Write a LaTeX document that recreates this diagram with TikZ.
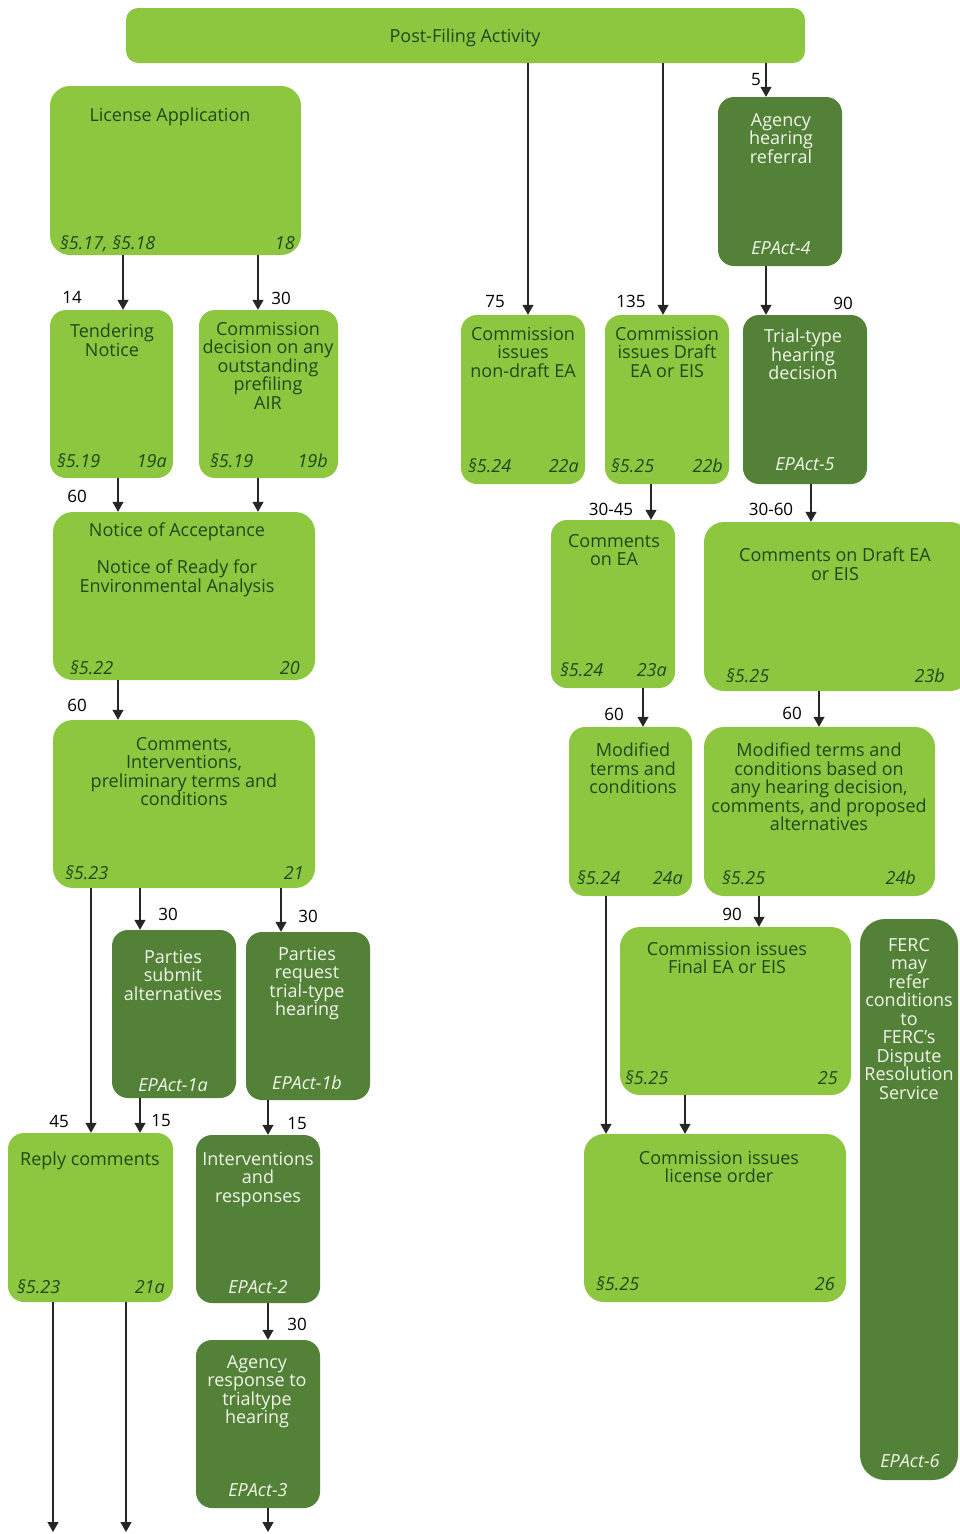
\documentclass[tikz,border=0pt]{standalone}
\usepackage{fontspec}
\setmainfont{Open Sans}
\usetikzlibrary{fit,arrows.meta}
\definecolor{leaf}{RGB}{141,198,63}
\definecolor{moss}{RGB}{83,129,56}
\definecolor{ink}{RGB}{28,74,28}
\definecolor{pale}{RGB}{242,246,234}

\begin{document}
\begin{tikzpicture}[x=1pt, y=-1pt,
  lt/.style = {fill=leaf, rounded corners=16pt, inner sep=0pt},
  dk/.style = {fill=moss, rounded corners=16pt, inner sep=0pt},
  txt/.style = {font=\fontsize{18}{18.5}\selectfont, align=center, inner sep=0pt, anchor=north, yshift=-2pt},
  ltxt/.style = {txt, text=ink},
  dtxt/.style = {txt, text=pale},
  sec/.style = {font=\fontsize{18}{18.5}\selectfont\itshape, inner sep=0pt, text=ink},
  act/.style = {sec, text=pale, anchor=base},
  num/.style = {font=\fontsize{17}{18.5}\selectfont, inner sep=0pt},
  arr/.style = {draw=black!85, line width=1.1pt, -{Triangle[length=10pt,width=11pt]}}]
\useasboundingbox (0,0) rectangle (960,1534);

% top bar
\node[lt, rounded corners=12pt, fit={(126,8) (805,63)}] (pfa) {};
\node[ltxt, anchor=center] (pfaT) at (465,36) {Post-Filing Activity};

%% left column
\node[lt, rounded corners=20pt, fit={(50,86) (301,255)}] (lic) {};
\node[ltxt] (licT) at (170,106) {License Application};
\node[sec, anchor=base west] (licS) at (60,249) {§5.17, §5.18};
\node[sec, anchor=base east] (licN) at (295,249) {18};

\node[lt, fit={(50,310) (173,478)}] (tend) {};
\node[ltxt] (tendT) at (112,322) {Tendering\\Notice};
\node[sec, anchor=base west] (tendS) at (57,467) {§5.19};
\node[sec, anchor=base east] (tendN) at (167,467) {19a};

\node[lt, fit={(199,310) (338,478)}] (cdec) {};
\node[ltxt] (cdecT) at (268,320) {Commission\\decision on any\\outstanding\\prefiling\\AIR};
\node[sec, anchor=base west] (cdecS) at (210,467) {§5.19};
\node[sec, anchor=base east] (cdecN) at (328,467) {19b};

\node[lt, rounded corners=20pt, fit={(53,512) (315,680)}] (noa) {};
\node[ltxt] (noaT) at (177,521) {Notice of Acceptance\\[18.5pt]Notice of Ready for\\Environmental Analysis};
\node[sec, anchor=base west] (noaS) at (70,674) {§5.22};
\node[sec, anchor=base east] (noaN) at (300,674) {20};

\node[lt, rounded corners=20pt, fit={(53,720) (315,888)}] (com) {};
\node[ltxt] (comT) at (184,735) {Comments,\\Interventions,\\preliminary terms and\\conditions};
\node[sec, anchor=base west] (comS) at (65,879) {§5.23};
\node[sec, anchor=base east] (comN) at (304,879) {21};

\node[dk, fit={(112,930) (236,1098)}] (psub) {};
\node[dtxt] (psubT) at (173,948) {Parties\\submit\\alternatives};
\node[act] (psubA) at (173,1091) {\itshape EPAct-1a};

\node[dk, fit={(246,932) (370,1100)}] (preq) {};
\node[dtxt] (preqT) at (307,945) {Parties\\request\\trial-type\\hearing};
\node[act] (preqA) at (307,1089) {\itshape EPAct-1b};

\node[lt, fit={(8,1133) (173,1302)}] (reply) {};
\node[ltxt] (replyT) at (90,1150) {Reply comments};
\node[sec, anchor=base west] (replyS) at (17,1293) {§5.23};
\node[sec, anchor=base east] (replyN) at (165,1293) {21a};

\node[dk, fit={(196,1135) (320,1303)}] (interv) {};
\node[dtxt] (intervT) at (258,1150) {Interventions\\and\\responses};
\node[act] (intervA) at (258,1293) {\itshape EPAct-2};

\node[dk, fit={(196,1340) (320,1508)}] (agresp) {};
\node[dtxt] (agrespT) at (257,1353) {Agency\\response to\\trialtype\\hearing};
\node[act] (agrespA) at (258,1496) {\itshape EPAct-3};

%% right columns
\node[dk, fit={(718,97) (842,266)}] (ahr) {};
\node[dtxt] (ahrT) at (781,111) {Agency\\hearing\\referral};
\node[act] (ahrA) at (781,254) {\itshape EPAct-4};

\node[lt, fit={(461,315) (585,484)}] (ndea) {};
\node[ltxt] (ndeaT) at (523,325) {Commission\\issues\\non-draft EA};
\node[sec, anchor=base west] (ndeaS) at (468,472) {§5.24};
\node[sec, anchor=base east] (ndeaN) at (579,472) {22a};

\node[lt, fit={(605,315) (729,484)}] (dea) {};
\node[ltxt] (deaT) at (667,325) {Commission\\issues Draft\\EA or EIS};
\node[sec, anchor=base west] (deaS) at (611,472) {§5.25};
\node[sec, anchor=base east] (deaN) at (723,472) {22b};

\node[dk, fit={(743,315) (867,484)}] (tth) {};
\node[dtxt] (tthT) at (803,327) {Trial-type\\hearing\\decision};
\node[act] (tthA) at (805,470) {\itshape EPAct-5};

\node[lt, fit={(551,520) (675,688)}] (cea) {};
\node[ltxt] (ceaT) at (614,532) {Comments\\on EA};
\node[sec, anchor=base west] (ceaS) at (560,676) {§5.24};
\node[sec, anchor=base east] (ceaN) at (667,676) {23a};

\node[lt, rounded corners=20pt, fit={(704,522) (970,691)}] (cdea) {};
\node[ltxt] (cdeaT) at (835,546) {Comments on Draft EA\\or EIS};
\node[sec, anchor=base west] (cdeaS) at (726,682) {§5.25};
\node[sec, anchor=base east] (cdeaN) at (945,682) {23b};

\node[lt, fit={(569,727) (692,896)}] (mtc) {};
\node[ltxt] (mtcT) at (633,741) {Modified\\terms and\\conditions};
\node[sec, anchor=base west] (mtcS) at (577,884) {§5.24};
\node[sec, anchor=base east] (mtcN) at (683,884) {24a};

\node[lt, rounded corners=20pt, fit={(704,727) (935,896)}] (mtb) {};
\node[ltxt] (mtbT) at (819,741) {Modified terms and\\conditions based on\\any hearing decision,\\comments, and proposed\\alternatives};
\node[sec, anchor=base west] (mtbS) at (722,884) {§5.25};
\node[sec, anchor=base east] (mtbN) at (916,884) {24b};

\node[lt, rounded corners=20pt, fit={(620,927) (851,1095)}] (fea) {};
\node[ltxt] (feaT) at (727,940) {Commission issues\\Final EA or EIS};
\node[sec, anchor=base west] (feaS) at (625,1084) {§5.25};
\node[sec, anchor=base east] (feaN) at (838,1084) {25};

\node[lt, rounded corners=20pt, fit={(584,1134) (846,1302)}] (lo) {};
\node[ltxt] (loT) at (719,1149) {Commission issues\\license order};
\node[sec, anchor=base west] (loS) at (596,1290) {§5.25};
\node[sec, anchor=base east] (loN) at (835,1290) {26};

\node[dk, rounded corners=25pt, fit={(860,919) (958,1480)}] (ferc) {};
\node[dtxt] (fercT) at (909,936) {FERC\\may\\refer\\conditions\\to\\FERC's\\Dispute\\Resolution\\Service};
\node[act] (fercA) at (910,1467) {\itshape EPAct-6};

% free ends at the bottom
\coordinate (outA) at (53,1532);
\coordinate (outB) at (126,1532);
\coordinate (outC) at (268,1532);

%% arrows
\draw[arr] (lic.south -| 123,0) -- (tend.north -| 123,0);
\draw[arr] (lic.south -| 258,0) -- (cdec.north -| 258,0);
\draw[arr] (tend.south -| 118,0) -- (noa.north -| 118,0);
\draw[arr] (cdec.south -| 258,0) -- (noa.north -| 258,0);
\draw[arr] (noa.south -| 118,0) -- (com.north -| 118,0);
\draw[arr] (com.south -| 91,0) -- (reply.north -| 91,0);
\draw[arr] (com.south -| 140,0) -- (psub.north -| 140,0);
\draw[arr] (com.south -| 281,0) -- (preq.north -| 281,0);
\draw[arr] (psub.south -| 140,0) -- (reply.north -| 140,0);
\draw[arr] (preq.south -| 268,0) -- (interv.north -| 268,0);
\draw[arr] (reply.south -| outA) -- (outA);
\draw[arr] (reply.south -| outB) -- (outB);
\draw[arr] (interv.south -| 268,0) -- (agresp.north -| 268,0);
\draw[arr] (agresp.south -| outC) -- (outC);
\draw[arr] (pfa.south -| 528,0) -- (ndea.north -| 528,0);
\draw[arr] (pfa.south -| 663,0) -- (dea.north -| 663,0);
\draw[arr] (pfa.south -| 766,0) -- (ahr.north -| 766,0);
\draw[arr] (ahr.south -| 766,0) -- (tth.north -| 766,0);
\draw[arr] (dea.south -| 651,0) -- (cea.north -| 651,0);
\draw[arr] (tth.south -| 811,0) -- (cdea.north -| 811,0);
\draw[arr] (cea.south -| 643,0) -- (mtc.north -| 643,0);
\draw[arr] (cdea.south -| 819,0) -- (mtb.north -| 819,0);
\draw[arr] (mtc.south -| 606,0) -- (lo.north -| 606,0);
\draw[arr] (mtb.south -| 759,0) -- (fea.north -| 759,0);
\draw[arr] (fea.south -| 685,0) -- (lo.north -| 685,0);

% day counts
\node[num] (d1) at (72,297) {14};
\node[num] (d2) at (281,298) {30};
\node[num] (d3) at (77,496) {60};
\node[num] (d4) at (77,705) {60};
\node[num] (d5) at (59,1121) {45};
\node[num] (d6) at (168,914) {30};
\node[num] (d7) at (308,916) {30};
\node[num] (d8) at (161,1121) {15};
\node[num] (d9) at (297,1123) {15};
\node[num] (d10) at (297,1324) {30};
\node[num] (d11) at (495,302) {75};
\node[num] (d12) at (631,301) {135};
\node[num] (d13) at (756,80) {5};
\node[num] (d14) at (843,303) {90};
\node[num] (d15) at (611,509) {30-45};
\node[num] (d16) at (771,509) {30-60};
\node[num] (d17) at (614,714) {60};
\node[num] (d18) at (792,713) {60};
\node[num] (d19) at (732,914) {90};
\end{tikzpicture}
\end{document}
